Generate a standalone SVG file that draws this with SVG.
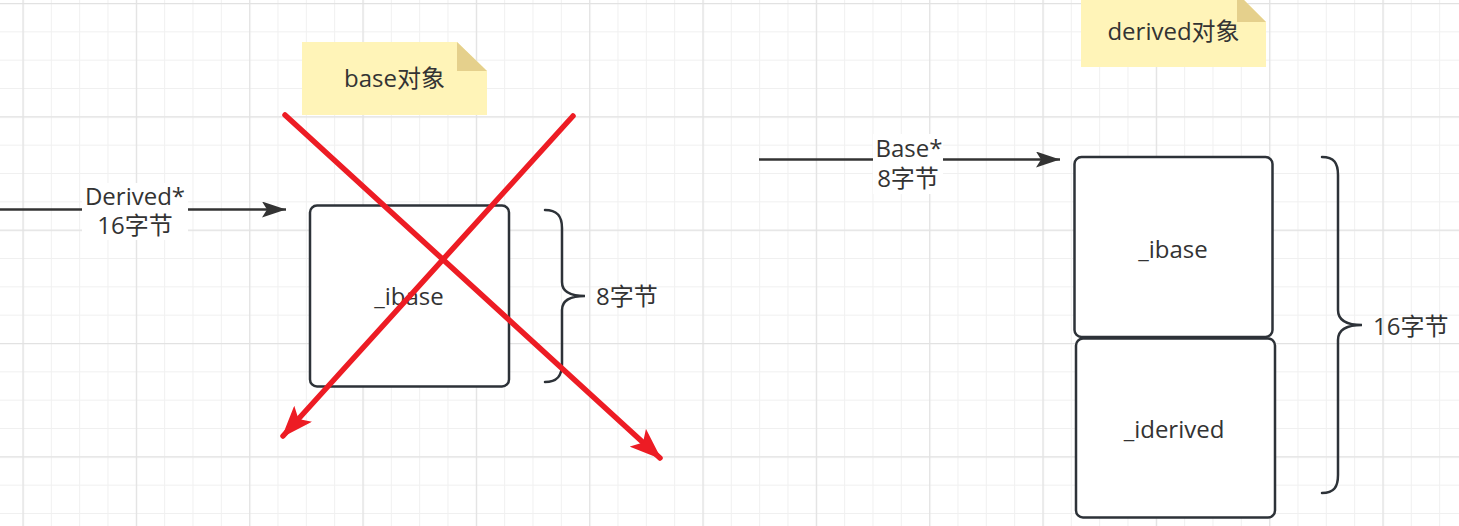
<svg xmlns="http://www.w3.org/2000/svg" width="1459" height="526" viewBox="0 0 1459 526">
  <style>
    .t { font-family: "Open Sans", "Noto Sans CJK SC", sans-serif; font-size: 24px; fill: #333333; }
    .box { fill: #ffffff; stroke: #2d3238; stroke-width: 2.5; }
    .note { fill: #fff4b8; }
    .fold { fill: #e5d08c; }
    .brace { fill: none; stroke: #2d3238; stroke-width: 2.5; stroke-linecap: round; }
    .edge { fill: none; stroke: #333333; stroke-width: 2.5; }
    .red { fill: none; stroke: #ed1c24; stroke-width: 5.5; stroke-linecap: round; }
    .lbl { fill: #ffffff; }
  </style>
  <defs>
    <pattern id="gridMinor" patternUnits="userSpaceOnUse" x="22.5" y="3" width="28.333" height="28.333">
      <path d="M0 0.5 H28.333 M0.5 0 V28.333" stroke="#f0f0f0" stroke-width="1" fill="none"/>
    </pattern>
    <pattern id="gridMajor" patternUnits="userSpaceOnUse" x="22.5" y="3" width="113.333" height="113.333">
      <path d="M0 0.5 H113.333 M0.5 0 V113.333" stroke="#e2e2e2" stroke-width="1.5" fill="none"/>
    </pattern>
    <marker id="arrowBlack" markerUnits="userSpaceOnUse" viewBox="0 0 24 16" refX="24" refY="8" markerWidth="24" markerHeight="16" orient="auto">
      <path d="M0 0 L24 8 L0 16 L5 8 Z" fill="#333333"/>
    </marker>
    <marker id="arrowRed" markerUnits="userSpaceOnUse" viewBox="0 0 32 24" refX="30" refY="12" markerWidth="32" markerHeight="24" orient="auto">
      <path d="M0 0 L32 12 L0 24 L7 12 Z" fill="#ed1c24"/>
    </marker>
  </defs>

  <g id="background">
    <rect x="0" y="0" width="1459" height="526" fill="#ffffff"/>
    <rect x="0" y="0" width="1459" height="526" fill="url(#gridMinor)"/>
    <rect x="0" y="0" width="1459" height="526" fill="url(#gridMajor)"/>
  </g>

  <g id="note-base">
    <path class="note" d="M302 42 H457 L487 71 V115 H302 Z"/>
    <path class="fold" d="M457 42 L487 71 H457 Z"/>
    <text class="t" x="394.5" y="87" text-anchor="middle">base对象</text>
  </g>

  <g id="note-derived">
    <path class="note" d="M1081 -7 H1237 L1266 22 V67 H1081 Z"/>
    <path class="fold" d="M1237 -7 L1266 22 H1237 Z"/>
    <text class="t" x="1173.5" y="40" text-anchor="middle">derived对象</text>
  </g>

  <g id="box-base-ibase">
    <rect class="box" x="310" y="205.5" width="199" height="181" rx="7"/>
    <text class="t" x="409" y="305" text-anchor="middle">_ibase</text>
  </g>

  <g id="brace-8">
    <path class="brace" d="M545 210 C557 210 562 216 562 228 L562 282 C562 291 569 296 585 296 C569 296 562 301 562 310 L562 364 C562 376 557 382 545 382"/>
    <text class="t" x="596" y="305">8字节</text>
  </g>

  <g id="box-derived-ibase">
    <rect class="box" x="1074.5" y="157" width="198" height="180" rx="7"/>
    <text class="t" x="1173" y="258" text-anchor="middle">_ibase</text>
  </g>

  <g id="box-derived-iderived">
    <rect class="box" x="1076" y="338.5" width="199" height="179" rx="7"/>
    <text class="t" x="1174" y="438" text-anchor="middle">_iderived</text>
  </g>

  <g id="brace-16">
    <path class="brace" d="M1322 157 C1334 157 1338 163 1338 175 L1338 310 C1338 320 1346 325 1362 325 C1346 325 1338 330 1338 340 L1338 475 C1338 487 1334 493 1322 493"/>
    <text class="t" x="1373" y="335">16字节</text>
  </g>

  <g id="connectors">
    <g id="edge-derived-ptr">
      <path class="edge" d="M0 209.5 H286" marker-end="url(#arrowBlack)"/>
      <rect class="lbl" x="82" y="183" width="106" height="57"/>
      <text class="t" x="135" y="204.5" text-anchor="middle">Derived*</text>
      <text class="t" x="135" y="234" text-anchor="middle">16字节</text>
    </g>
    <g id="edge-base-ptr">
      <path class="edge" d="M759 159.5 H1060" marker-end="url(#arrowBlack)"/>
      <rect class="lbl" x="873" y="134" width="70" height="60"/>
      <text class="t" x="909" y="156.5" text-anchor="middle">Base*</text>
      <text class="t" x="908" y="187" text-anchor="middle">8字节</text>
    </g>
    <g id="cross">
      <path class="red" d="M285 115 L660 458" marker-end="url(#arrowRed)"/>
      <path class="red" d="M573 116 L283 436" marker-end="url(#arrowRed)"/>
    </g>
  </g>
</svg>
